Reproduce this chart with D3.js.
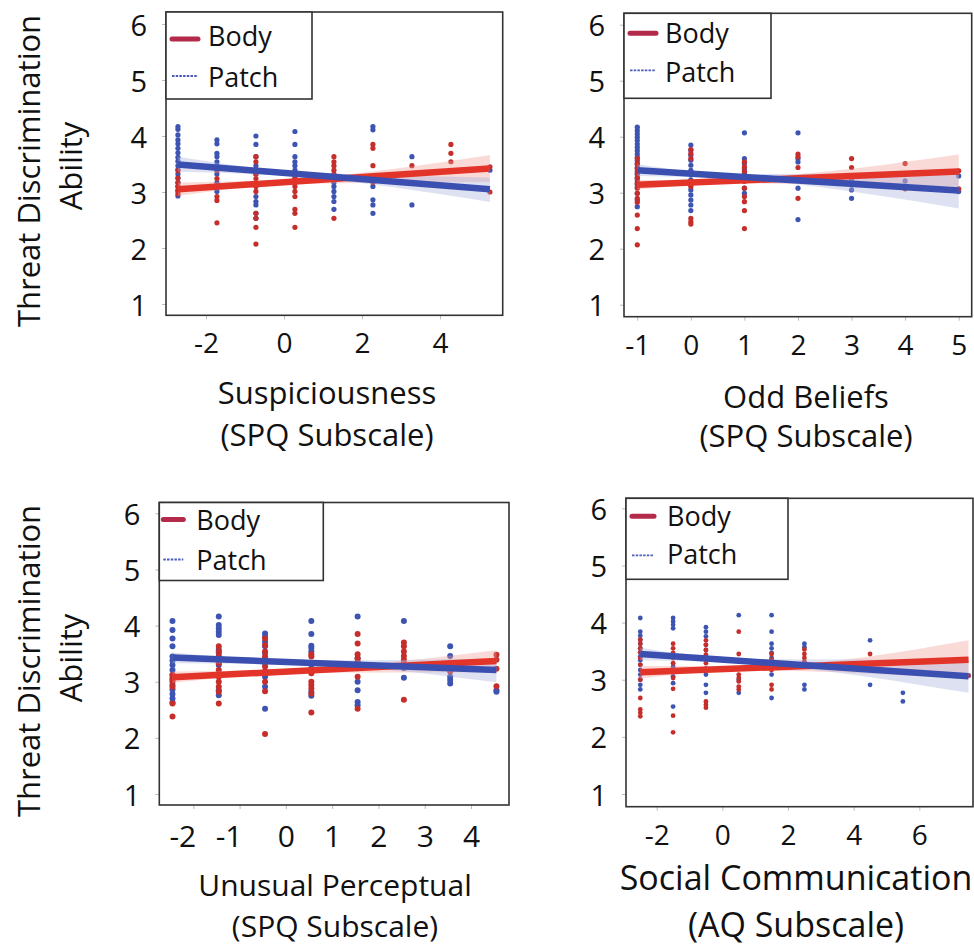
<!DOCTYPE html>
<html>
<head>
<meta charset="utf-8">
<script src="https://cdn.jsdelivr.net/npm/d3@7"></script>
<style>
  html, body { margin: 0; padding: 0; background: #fff; }
  svg { display: block; font-family: "Open Sans", sans-serif; }
</style>
</head>
<body>
<svg id="chart" width="974" height="948"></svg>
<script>
// ---- data ----
const yTicks = [1, 2, 3, 4, 5, 6];
const seriesNames = ['Body', 'Patch'];

// Suspiciousness (SPQ)
const suspXTicks = [-2, 0, 2, 4];
const suspLevels = [-2.72, -1.72, -0.72, 0.28, 1.28, 2.28, 3.28, 4.28, 5.28];
const suspPatch = [
    [4.17, 4.12, 4.02, 3.93, 3.86, 3.78, 3.70, 3.62, 3.55, 3.47, 3.40, 3.32, 3.25, 3.17, 3.10, 3.02, 2.93],
    [3.93, 3.86, 3.69, 3.63, 3.54, 3.47, 3.39, 3.32, 3.17, 3.01],
    [4.00, 3.85, 3.63, 3.47, 3.39, 3.32, 2.92, 2.83, 2.77, 2.62, 2.53],
    [4.08, 3.85, 3.63, 3.54, 3.47, 3.39, 3.32, 3.24, 3.17],
    [3.24, 3.17, 3.10, 3.01, 2.92, 2.83, 2.69],
    [4.17, 4.11, 3.21, 3.10, 2.86, 2.77, 2.62],
    [3.63, 2.77],
    [],
    [3.39]
];
const suspBody = [
    [3.38, 3.25, 3.17, 3.10, 3.03, 2.97],
    [3.39, 3.24, 3.10, 2.92, 2.85, 2.45],
    [3.63, 3.54, 3.39, 3.32, 3.24, 3.10, 3.01, 2.62, 2.53, 2.37, 2.07],
    [3.24, 3.17, 3.10, 3.01, 2.92, 2.69, 2.62, 2.37],
    [3.63, 3.54, 3.47, 3.39, 3.32, 2.53],
    [3.85, 3.78, 3.47, 3.24, 3.17],
    [3.47],
    [3.85, 3.69, 3.54],
    [3.45, 3.00]
];
const suspBodyFit = [[-2.72, 3.05], [5.28, 3.42]];
const suspPatchFit = [[-2.72, 3.49], [5.28, 3.05]];
const suspBodyBand = [[-2.72, 2.93, 3.17], [0.3, 3.145, 3.235], [5.28, 3.18, 3.66]];
const suspPatchBand = [[-2.72, 3.36, 3.63], [0.3, 3.275, 3.365], [5.28, 2.82, 3.26]];

// Odd Beliefs (SPQ)
const oddXTicks = [-1, 0, 1, 2, 3, 4, 5];
const oddLevels = [-1, 0, 1, 2, 3, 4, 5];
const oddPatch = [
    [4.17, 4.11, 4.05, 3.99, 3.93, 3.87, 3.81, 3.75, 3.69, 3.63, 3.57, 3.51, 3.45, 3.39, 3.33, 3.27, 3.21, 3.15, 3.10, 2.99, 2.87, 2.75],
    [3.85, 3.76, 3.67, 3.58, 3.49, 3.40, 3.32, 3.23, 3.14, 3.05, 2.96, 2.87, 2.78, 2.68],
    [4.07, 3.61, 3.52, 3.43, 3.35, 3.23, 3.08, 2.99],
    [4.07, 3.61, 3.55, 3.08, 2.52],
    [3.23, 3.14, 3.05, 2.90],
    [3.21],
    [3.30, 3.02]
];
const oddBody = [
    [3.61, 3.52, 3.43, 3.35, 3.26, 3.17, 3.08, 2.99, 2.90, 2.83, 2.60, 2.36, 2.07],
    [3.77, 3.70, 3.61, 3.35, 3.20, 3.11, 2.54, 2.48, 2.44],
    [3.55, 3.46, 3.38, 3.29, 3.20, 3.08, 2.93, 2.84, 2.68, 2.36],
    [3.69, 3.64, 3.45, 3.23, 2.90],
    [3.61, 3.45, 3.29],
    [3.52, 3.07],
    [3.39, 3.07]
];
const oddBodyFit = [[-1, 3.14], [5, 3.38]];
const oddPatchFit = [[-1, 3.40], [5, 3.04]];
const oddBodyBand = [[-1, 3.055, 3.225], [0.8, 3.165, 3.255], [5, 3.08, 3.68]];
const oddPatchBand = [[-1, 3.30, 3.51], [0.8, 3.245, 3.335], [5, 2.72, 3.35]];

// Unusual Perceptual (SPQ)
const unusXTicks = [-2, -1, 0, 1, 2, 3, 4];
const unusLevels = [-2.45, -1.45, -0.45, 0.55, 1.55, 2.55, 3.55, 4.55];
const unusPatch = [
    [4.08, 3.92, 3.77, 3.63, 3.45, 3.38, 3.30, 3.21, 3.12, 3.03, 2.94, 2.86, 2.78, 2.70, 2.63],
    [4.16, 4.01, 3.95, 3.89, 3.83, 3.57, 3.51, 3.45, 3.36, 3.30, 3.15, 2.85, 2.76],
    [3.86, 3.80, 3.71, 3.63, 3.51, 3.39, 3.33, 3.18, 3.09, 2.91, 2.52],
    [4.08, 3.85, 3.64, 3.60, 3.54, 3.33, 3.24, 2.82, 2.75],
    [4.16, 3.42, 3.33, 3.00, 2.85, 2.64, 2.58],
    [4.08, 3.33, 3.24, 3.07],
    [3.63, 3.46, 3.09, 3.03, 2.97],
    [2.85, 2.82]
];
const unusBody = [
    [3.12, 3.06, 3.00, 2.91, 2.61, 2.38],
    [3.63, 3.54, 3.45, 3.33, 3.21, 3.09, 3.00, 2.91, 2.82, 2.61],
    [3.77, 3.65, 3.54, 3.45, 3.27, 3.18, 3.00, 2.83, 2.07],
    [3.49, 3.45, 3.15, 3.00, 2.94, 2.88, 2.79, 2.45],
    [3.85, 3.68, 3.49, 3.42, 3.36, 3.24, 3.09, 2.52],
    [3.70, 3.63, 3.54, 3.46, 3.39, 3.30, 2.68],
    [3.34, 3.18],
    [3.48, 3.39, 3.23, 2.92]
];
const unusBodyFit = [[-2.45, 3.08], [4.55, 3.37]];
const unusPatchFit = [[-2.45, 3.43], [4.55, 3.21]];
const unusBodyBand = [[-2.45, 2.98, 3.18], [0.5, 3.16, 3.24], [4.55, 3.17, 3.56]];
const unusPatchBand = [[-2.45, 3.33, 3.52], [0.5, 3.30, 3.38], [4.55, 2.99, 3.41]];

// Social Communication (AQ)
const socXTicks = [-2, 0, 2, 4, 6];
const socLevels = [-2.5, -1.5, -0.5, 0.5, 1.5, 2.5, 4.5, 5.5, 7.5];
const socPatch = [
    [4.08, 3.84, 3.77, 3.70, 3.63, 3.55, 3.48, 3.41, 3.34, 3.26, 3.17, 3.09, 3.00, 2.91, 2.83],
    [4.08, 4.02, 3.96, 3.90, 3.23, 3.15, 3.06, 2.94, 2.53],
    [3.92, 3.84, 3.76, 3.61, 3.52, 3.35, 3.20, 3.09, 2.91, 2.77],
    [4.13, 3.00, 2.77],
    [4.13, 3.84, 3.63, 3.55, 3.47, 3.38, 3.23, 3.09, 2.68],
    [3.63, 3.57, 3.29, 2.91, 2.83],
    [3.69, 2.91],
    [2.77, 2.62],
    [3.07]
];
const socBody = [
    [3.70, 3.63, 3.55, 3.48, 3.38, 3.26, 3.00, 2.68, 2.48, 2.42, 2.36],
    [3.63, 3.55, 3.47, 3.38, 3.29, 3.15, 3.03, 2.84, 2.37, 2.08],
    [3.69, 3.61, 3.52, 3.44, 3.29, 3.17, 2.62, 2.56, 2.51],
    [3.84, 3.45, 3.09, 3.03, 2.97, 2.88, 2.83],
    [3.45, 3.35, 3.26, 3.17, 2.91, 2.83],
    [3.53, 3.45, 3.38, 3.32],
    [3.45, 3.29],
    [],
    [3.07]
];
const socBodyFit = [[-2.5, 3.13], [7.5, 3.35]];
const socPatchFit = [[-2.5, 3.45], [7.5, 3.06]];
const socBodyBand = [[-2.5, 3.02, 3.24], [0.8, 3.16, 3.24], [7.5, 3.01, 3.69]];
const socPatchBand = [[-2.5, 3.34, 3.56], [0.8, 3.28, 3.36], [7.5, 2.77, 3.35]];

// ---- styling ----
const COLORS = {
    bodyPoint: '#c52e2b', patchPoint: '#3d54b2',
    bodyLine: '#e3342a', patchLine: '#3a4fb0',
    bodyBand: '#ee9f95', patchBand: '#a7b1dc',
    legendBody: '#b42a4b', legendPatch: '#4a5cb8',
    frame: '#333', tick: '#bbb', text: '#111'
};

const panels = [
    {
        title: ['Suspiciousness', '(SPQ Subscale)'], titleX: 327, titleY: [404, 446], titleSize: 31,
        box: { left: 166, top: 12, right: 502.7, bottom: 315.3 }, xDomain: [-3.026, 5.608],
        yRange: [304, 24], xTicks: suspXTicks, xTickY: 38, xTickSize: 28, yTickSize: 29, negDx: 0,
        levels: suspLevels, body: suspBody, patch: suspPatch, r: 2.6,
        bodyFit: suspBodyFit, patchFit: suspPatchFit, bodyBand: suspBodyBand, patchBand: suspPatchBand,
        legend: { w: 146, h: 87, l1: 27, t1: 34, l2: 64, t2: 75, dx: 6, len: 26, tx: 42 },
        yTitle: { cy: 171, cy2: 166 }
    },
    {
        title: ['Odd Beliefs', '(SPQ Subscale)'], titleX: 806, titleY: [408, 447], titleSize: 31,
        box: { left: 624, top: 13.3, right: 971.7, bottom: 316.7 }, xDomain: [-1.248, 5.243],
        yRange: [304.7, 24.7], xTicks: oddXTicks, xTickY: 38, xTickSize: 28, yTickSize: 29, negDx: 0,
        levels: oddLevels, body: oddBody, patch: oddPatch, r: 2.6,
        bodyFit: oddBodyFit, patchFit: oddPatchFit, bodyBand: oddBodyBand, patchBand: oddPatchBand,
        legend: { w: 147, h: 85, l1: 20, t1: 30, l2: 57, t2: 69, dx: 6, len: 26, tx: 41 },
        yTitle: null
    },
    {
        title: ['Unusual Perceptual', '(SPQ Subscale)'], titleX: 335, titleY: [896, 937], titleSize: 30,
        box: { left: 159.3, top: 502.5, right: 509, bottom: 805 }, xDomain: [-2.735, 4.821],
        yRange: [794, 513.3], xTicks: unusXTicks, xTickY: 42, xTickSize: 30, yTickSize: 29, negDx: -11,
        levels: unusLevels, body: unusBody, patch: unusPatch, r: 3,
        bodyFit: unusBodyFit, patchFit: unusPatchFit, bodyBand: unusBodyBand, patchBand: unusPatchBand,
        legend: { w: 164, h: 78, l1: 17, t1: 27, l2: 57, t2: 67, dx: 4, len: 20, tx: 37 },
        yTitle: { cy: 661, cy2: 658 }
    },
    {
        title: ['Social Communication', '(AQ Subscale)'], titleX: 796, titleY: [890, 937], titleSize: 34,
        box: { left: 626, top: 498.3, right: 973, bottom: 806.7 }, xDomain: [-2.935, 7.636],
        yRange: [794, 508.3], xTicks: socXTicks, xTickY: 38, xTickSize: 28, yTickSize: 29, negDx: 0,
        levels: socLevels, body: socBody, patch: socPatch, r: 2.4,
        bodyFit: socBodyFit, patchFit: socPatchFit, bodyBand: socBodyBand, patchBand: socPatchBand,
        legend: { w: 162, h: 81, l1: 18, t1: 28, l2: 57, t2: 66, dx: 6, len: 22, tx: 41 },
        yTitle: null
    }
];

const svg = d3.select('#chart');

function flatten(levels, series) {
    return levels.flatMap((lv, i) => series[i].map(v => ({ x: lv, y: v })));
}

function drawPanel(p) {
    const b = p.box;
    const x = d3.scaleLinear().domain(p.xDomain).range([b.left, b.right]);
    const y = d3.scaleLinear().domain([1, 6]).range(p.yRange);
    const g = svg.append('g');

    // axes (ticks outside the frame, no domain line)
    g.append('g')
        .attr('transform', `translate(0,${b.bottom})`)
        .call(d3.axisBottom(x).tickValues(p.xTicks).tickSize(4).tickFormat(d => String(d)))
        .call(sel => sel.select('.domain').remove())
        .call(sel => sel.selectAll('.tick line').attr('stroke', COLORS.tick))
        .call(sel => sel.selectAll('.tick text')
            .attr('y', p.xTickY).attr('dy', 0)
            .attr('dx', d => d < 0 ? p.negDx : 0)
            .style('font-size', p.xTickSize + 'px').style('font-family', '"Open Sans", sans-serif')
            .attr('fill', COLORS.text));

    g.append('g')
        .attr('transform', `translate(${b.left},0)`)
        .call(d3.axisLeft(y).tickValues(yTicks).tickSize(4).tickFormat(d => String(d)))
        .call(sel => sel.select('.domain').remove())
        .call(sel => sel.selectAll('.tick line').attr('stroke', COLORS.tick))
        .call(sel => sel.selectAll('.tick text')
            .attr('x', -19).attr('dy', 11)
            .style('font-size', p.yTickSize + 'px').style('font-family', '"Open Sans", sans-serif')
            .attr('fill', COLORS.text));

    // scatter points
    g.selectAll('.pt-patch')
        .data(flatten(p.levels, p.patch))
        .join('circle')
        .attr('class', 'pt-patch')
        .attr('cx', d => x(d.x)).attr('cy', d => y(d.y)).attr('r', p.r)
        .attr('fill', COLORS.patchPoint);
    g.selectAll('.pt-body')
        .data(flatten(p.levels, p.body))
        .join('circle')
        .attr('class', 'pt-body')
        .attr('cx', d => x(d.x)).attr('cy', d => y(d.y)).attr('r', p.r)
        .attr('fill', COLORS.bodyPoint);

    // confidence bands
    const area = d3.area().x(d => x(d[0])).y0(d => y(d[1])).y1(d => y(d[2])).curve(d3.curveMonotoneX);
    g.append('path').datum(p.bodyBand).attr('d', area)
        .attr('fill', COLORS.bodyBand).attr('fill-opacity', 0.38);
    g.append('path').datum(p.patchBand).attr('d', area)
        .attr('fill', COLORS.patchBand).attr('fill-opacity', 0.38);

    // fitted lines
    const line = d3.line().x(d => x(d[0])).y(d => y(d[1]));
    g.append('path').datum(p.bodyFit).attr('d', line)
        .attr('stroke', COLORS.bodyLine).attr('stroke-width', 6.5).attr('fill', 'none');
    g.append('path').datum(p.patchFit).attr('d', line)
        .attr('stroke', COLORS.patchLine).attr('stroke-width', 6.5).attr('fill', 'none');

    // frame
    g.append('rect')
        .attr('x', b.left).attr('y', b.top)
        .attr('width', b.right - b.left).attr('height', b.bottom - b.top)
        .attr('fill', 'none').attr('stroke', COLORS.frame).attr('stroke-width', 1.6);

    // legend
    const L = p.legend;
    const lg = g.append('g').attr('transform', `translate(${b.left},${b.top})`);
    lg.append('rect').attr('width', L.w).attr('height', L.h)
        .attr('fill', '#fff').attr('stroke', COLORS.frame).attr('stroke-width', 1.6);
    lg.append('line')
        .attr('x1', L.dx).attr('x2', L.dx + L.len).attr('y1', L.l1).attr('y2', L.l1)
        .attr('stroke', COLORS.legendBody).attr('stroke-width', 5).attr('stroke-linecap', 'round');
    lg.append('line')
        .attr('x1', L.dx).attr('x2', L.dx + L.len).attr('y1', L.l2).attr('y2', L.l2)
        .attr('stroke', COLORS.legendPatch).attr('stroke-width', 1.8).attr('stroke-dasharray', '2.5,1.2');
    lg.selectAll('.lg-text')
        .data(seriesNames)
        .join('text')
        .attr('class', 'lg-text')
        .attr('x', L.tx).attr('y', (d, i) => i === 0 ? L.t1 : L.t2)
        .style('font-size', '27px').attr('fill', COLORS.text)
        .text(d => d);

    // x title
    g.selectAll('.x-title')
        .data(p.title)
        .join('text')
        .attr('class', 'x-title')
        .attr('x', p.titleX).attr('y', (d, i) => p.titleY[i])
        .attr('text-anchor', 'middle')
        .style('font-size', p.titleSize + 'px').attr('fill', COLORS.text)
        .text(d => d);

    // y title
    if (p.yTitle) {
        g.append('text')
            .attr('transform', `translate(40,${p.yTitle.cy}) rotate(-90)`)
            .attr('text-anchor', 'middle')
            .style('font-size', '31px').attr('fill', COLORS.text)
            .text('Threat Discrimination');
        g.append('text')
            .attr('transform', `translate(82,${p.yTitle.cy2}) rotate(-90)`)
            .attr('text-anchor', 'middle')
            .style('font-size', '31px').attr('fill', COLORS.text)
            .text('Ability');
    }
}

panels.forEach(drawPanel);
</script>
</body>
</html>
